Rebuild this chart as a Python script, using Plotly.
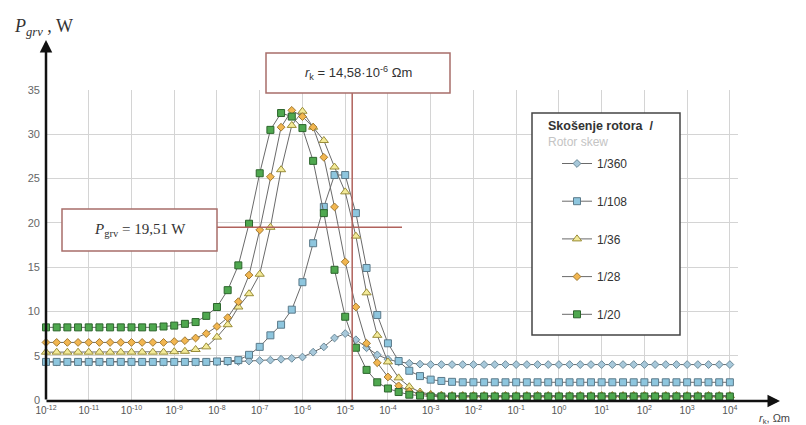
import math
import plotly.graph_objects as go

# ---------------- data ----------------
# x: r_k in Ohm*m, sampled every quarter decade from 1e-12 to 1e4
exponents_q = list(range(-48, 17))          # quarter-decade exponents
r_k = [10 ** (e / 4) for e in exponents_q]

series_names = ["1/360", "1/108", "1/36", "1/28", "1/20"]

p_360 = [4.3] * 18 + [4.35, 4.4, 4.45, 4.5, 4.6, 4.7, 4.85, 5.4, 6.0, 7.0, 7.5, 6.8,
                      5.9, 5.1, 4.6, 4.3, 4.15, 4.05] + [4.0] * 29

p_108 = [4.3] * 16 + [4.35, 4.4, 4.5, 5.1, 6.0, 7.3, 8.5, 10.2, 13.3, 17.7, 21.8, 25.4,
                      25.4, 21.1, 14.9, 9.6, 6.4, 4.4, 3.3, 2.7, 2.3, 2.15, 2.05] + [2.0] * 26

p_36 = [5.4] * 12 + [5.45, 5.5, 5.7, 6.0, 7.1, 8.5, 10.5, 12.0, 14.2, 19.5, 26.0, 31.0,
                     32.6, 30.8, 29.3, 26.3, 23.5, 18.5, 12.1, 7.3, 4.3, 2.5, 1.5, 0.9,
                     0.65, 0.55] + [0.5] * 27

p_28 = [6.5] * 12 + [6.6, 6.7, 7.0, 7.5, 8.3, 9.3, 11.1, 14.1, 19.2, 25.2, 30.8, 32.7,
                     32.0, 30.8, 27.4, 21.8, 15.6, 10.5, 6.4, 4.2, 2.6, 1.6, 1.0, 0.7,
                     0.55] + [0.45] * 28

p_20 = [8.2] * 11 + [8.3, 8.4, 8.6, 8.8, 9.5, 10.5, 12.4, 15.2, 19.9, 25.6, 30.5, 32.4,
                     32.0, 30.7, 27.0, 21.1, 14.7, 9.4, 5.9, 3.4, 2.0, 1.3, 0.9, 0.6,
                     0.5] + [0.4] * 29

series_values = [p_360, p_108, p_36, p_28, p_20]

x_tick_exps = list(range(-12, 5))
x_tick_vals = [10.0 ** e for e in x_tick_exps]
x_tick_text = ["10<sup>%d</sup>" % e for e in x_tick_exps]
y_tick_vals = [0, 5, 10, 15, 20, 25, 30, 35]

rk_marked = 14.58e-6
p_marked = 19.51

# ---------------- styles ----------------
W, H = 806, 425
L, R, T, B = 46, 68, 90, 25
PW, PH = W - L - R, H - T - B
XMIN, XMAX = -12, 4.19


def px(xp):
    return (xp - L) / PW


def py(yp):
    return (H - B - yp) / PH


styles = [
    dict(symbol="diamond", size=6, color="#a7c8da", line="#6c8a99"),
    dict(symbol="square", size=7, color="#8ec6de", line="#5b7a8a"),
    dict(symbol="triangle-up", size=8, color="#f3ea98", line="#9a8d38"),
    dict(symbol="diamond", size=6, color="#f2b650", line="#a07a32"),
    dict(symbol="square", size=7, color="#4fa84f", line="#2c652c"),
]

fig = go.Figure()
for i, (name, vals, st) in enumerate(zip(series_names, series_values, styles)):
    fig.add_trace(go.Scatter(
        x=r_k, y=vals, name=name, mode="lines+markers",
        legendgroup="g%d" % i,
        line=dict(color="#6a6a6a", width=1),
        marker=dict(symbol=st["symbol"], size=st["size"], color=st["color"],
                    line=dict(color=st["line"], width=1)),
        cliponaxis=False,
    ))

grid_c = "#d4d4d4"
fig.update_layout(
    width=W, height=H,
    margin=dict(l=L, r=R, t=T, b=B, autoexpand=False),
    paper_bgcolor="white", plot_bgcolor="white",
    font=dict(family="Liberation Sans, Arial, sans-serif", color="#444"),
    xaxis=dict(type="log", range=[XMIN, XMAX], tickvals=x_tick_vals, ticktext=x_tick_text,
               showgrid=True, gridcolor=grid_c, gridwidth=1, zeroline=False,
               showline=False, ticks="", ticklabelstandoff=3, automargin=False,
               tickfont=dict(size=10, color="#555")),
    yaxis=dict(range=[0, 35], tickvals=y_tick_vals, showgrid=True, gridcolor=grid_c,
               gridwidth=1, zeroline=False, showline=False, ticks="", ticklabelstandoff=5,
               automargin=False, tickfont=dict(size=11, color="#666")),
    showlegend=True,
    legend=dict(x=px(557), y=py(149), xanchor="left", yanchor="top",
                bgcolor="rgba(0,0,0,0)", borderwidth=0, tracegroupgap=18.7,
                traceorder="grouped",
                font=dict(size=12, color="#333")),
)

red = "#b0625c"
box_c = "#a86e6a"
x_mark = (math.log10(rk_marked) - XMIN) / (XMAX - XMIN)
shapes = [
    # vertical marker line
    dict(type="line", xref="paper", yref="paper", x0=x_mark, x1=x_mark, y0=0, y1=py(93),
         line=dict(color=red, width=1.5), layer="above"),
    # horizontal marker line
    dict(type="line", xref="paper", yref="y", x0=px(217), x1=px(402), y0=p_marked, y1=p_marked,
         line=dict(color=red, width=1.5), layer="above"),
    # label boxes
    dict(type="rect", xref="paper", yref="paper", x0=px(266), x1=px(450), y0=py(93), y1=py(53),
         fillcolor="white", line=dict(color=box_c, width=1.5), layer="above"),
    dict(type="rect", xref="paper", yref="paper", x0=px(62), x1=px(217), y0=py(251), y1=py(209),
         fillcolor="white", line=dict(color=box_c, width=1.5), layer="above"),
    # legend frame
    dict(type="rect", xref="paper", yref="paper", x0=px(532), x1=px(680), y0=py(335), y1=py(113),
         fillcolor="white", line=dict(color="#444", width=1.5), layer="above"),
]
fig.update_layout(shapes=shapes)

ann = [
    # axis arrows
    dict(xref="paper", yref="paper", x=px(46), y=py(40), ax=0, ay=361, text="",
         showarrow=True, arrowhead=2, arrowsize=1, arrowwidth=2.5, arrowcolor="#111"),
    dict(xref="paper", yref="paper", x=px(780), y=py(401), ax=-735, ay=0, text="",
         showarrow=True, arrowhead=2, arrowsize=1, arrowwidth=2.5, arrowcolor="#111"),
    # axis titles
    dict(xref="paper", yref="paper", x=px(12), y=py(27), xanchor="left", yanchor="middle",
         text="<i>P</i><sub><i>grv</i></sub> , W", showarrow=False,
         font=dict(family="Liberation Serif, serif", size=18, color="#333")),
    dict(xref="paper", yref="paper", x=px(757), y=py(419), xanchor="left", yanchor="middle",
         text="<i>r</i><sub>k</sub>, Ωm", showarrow=False,
         font=dict(family="Liberation Sans, Arial", size=11, color="#444")),
    # box labels
    dict(xref="paper", yref="paper", x=px(358), y=py(73), xanchor="center", yanchor="middle",
         text="<i>r</i><sub>k</sub> = 14,58·10<sup>-6</sup> Ωm", showarrow=False,
         font=dict(family="Liberation Sans, Arial", size=13, color="#333")),
    dict(xref="paper", yref="paper", x=px(140), y=py(230), xanchor="center", yanchor="middle",
         text="<i>P</i><sub>grv</sub> = 19,51 W", showarrow=False,
         font=dict(family="Liberation Serif, serif", size=15, color="#333")),
    # legend title
    dict(xref="paper", yref="paper", x=px(546), y=py(126), xanchor="left", yanchor="middle",
         text="<b>Skošenje rotora  /</b>", showarrow=False,
         font=dict(family="Liberation Sans, Arial", size=12.5, color="#333")),
    dict(xref="paper", yref="paper", x=px(546), y=py(142), xanchor="left", yanchor="middle",
         text="Rotor skew", showarrow=False,
         font=dict(family="Liberation Sans, Arial", size=12, color="#c4c4c4")),
]
fig.update_layout(annotations=ann)

fig.write_html("out.html")
